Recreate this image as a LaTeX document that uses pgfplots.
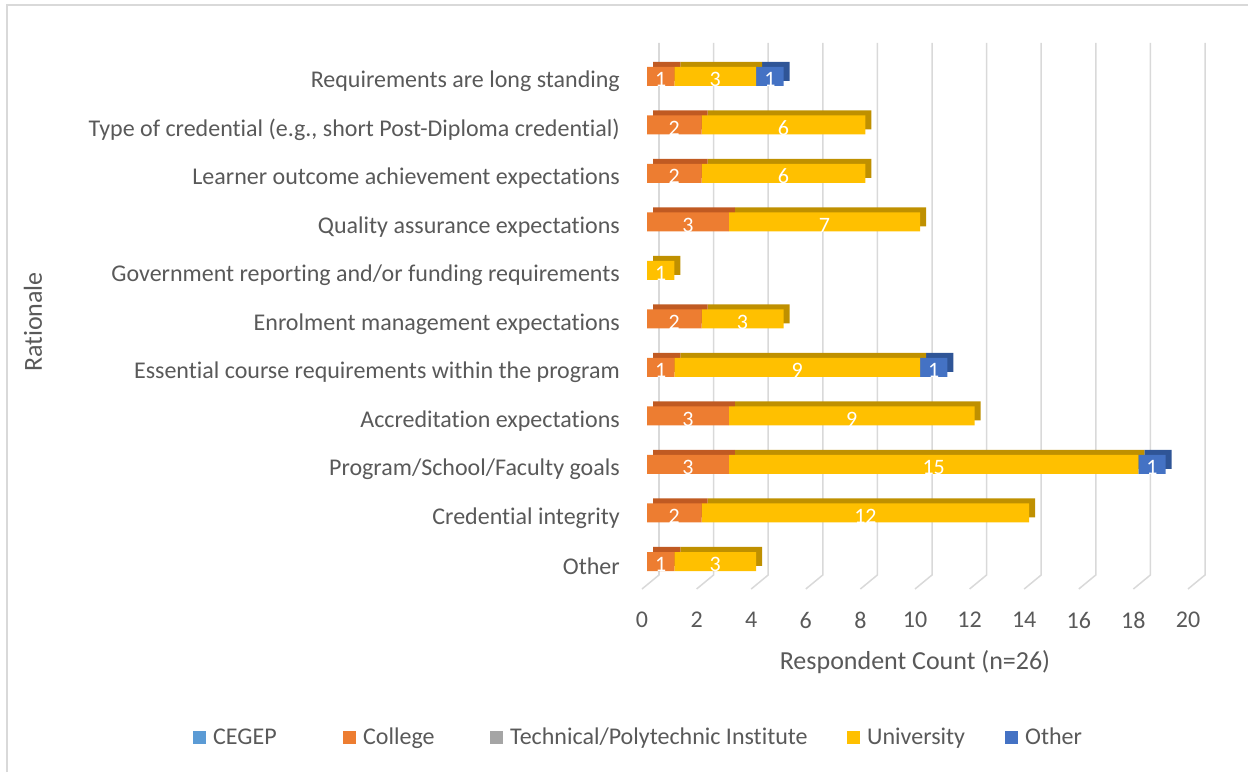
\documentclass[border=0pt]{standalone}
\usepackage{pgfplots}
\usepackage{pgfplotstable}
\pgfplotsset{compat=1.18}
\usepackage{fontspec}
\setmainfont{Carlito}[Ligatures=NoCommon]

\definecolor{txt}{HTML}{595959}
\definecolor{gridc}{HTML}{D9D9D9}
\definecolor{cegep}{HTML}{5B9BD5}
\definecolor{college}{HTML}{ED7D31}
\definecolor{tech}{HTML}{A5A5A5}
\definecolor{univ}{HTML}{FFC000}
\definecolor{other}{HTML}{4472C4}
\definecolor{cegepD}{HTML}{41719C}
\definecolor{collegeD}{HTML}{C05A22}
\definecolor{techD}{HTML}{7C7C7C}
\definecolor{univD}{HTML}{BF9000}
\definecolor{otherD}{HTML}{2F5597}

% rows bottom (0) to top (10)
\pgfplotstableread{
idx cegep college tech univ other
0  0 1 0 3  0
1  0 2 0 12 0
2  0 3 0 15 1
3  0 3 0 9  0
4  0 1 0 9  1
5  0 2 0 3  0
6  0 0 0 1  0
7  0 3 0 7  0
8  0 2 0 6  0
9  0 2 0 6  0
10 0 1 0 3  1
}\data

\pgfplotsset{
  base/.style={scale only axis, width=546pt, height=546pt,
    xmin=0, xmax=20, ymin=-0.567, ymax=10.69, anchor=south west,
    xbar stacked, bar width=19pt, clip=false},
  lbl/.style={point meta=\thisrow{#1},
    nodes near coords={\pgfmathfloatifflags{\pgfplotspointmeta}{0}{}{\pgfmathprintnumber[assume math mode=true]{\pgfplotspointmeta}}},
    every node near coord/.append style={anchor=center, text=white,
      font=\fontsize{22}{26}\selectfont, inner sep=0pt, yshift=-3pt}},
}

\begin{document}
\begin{tikzpicture}
\useasboundingbox (0,0) rectangle (1248pt,772pt);
\draw[gridc, line width=1.5pt] (7pt,0) -- (7pt,767pt) -- (1248pt,767pt);

% labels, ticks and the 3D grid
\begin{axis}[base, at={(647pt,183pt)},
    axis line style={draw=none}, tick style={draw=none},
    xtick={0,2,...,20}, ytick={0,...,10},
    yticklabels={Other, Credential integrity, Program/School/Faculty goals,
      Accreditation expectations, Essential course requirements within the program,
      Enrolment management expectations, Government reporting and/or funding requirements,
      Quality assurance expectations, Learner outcome achievement expectations,
      {Type of credential (e.g., short Post-Diploma credential)},
      Requirements are long standing},
    tick label style={font=\fontsize{24}{28}\selectfont, text=txt},
    /pgf/number format/assume math mode=true,
    xticklabel style={anchor=center, yshift=-31pt, xshift=-5pt},
    yticklabel style={anchor=east, inner sep=0pt, xshift=-27pt, yshift=-5pt},
    xlabel={Respondent Count (n=26)},
    xlabel style={at={(axis description cs:0.5,0)}, anchor=center,
      yshift=-73pt, xshift=-5pt, font=\fontsize{26}{30}\selectfont, text=txt},
  ]
  \pgfplotsinvokeforeach{0,2,4,6,8,10,12,14,16,18,20}{
    \draw[gridc, line width=1.5pt] ([xshift=12pt]axis cs:#1,10.69)
      -- ([xshift=12pt]axis cs:#1,-0.278) -- ([xshift=-5pt]axis cs:#1,-0.567);
  }
\end{axis}

% back faces of the bars
\begin{axis}[base, at={(653pt,188pt)}, hide axis]
  \addplot[fill=cegepD, draw=none] table[x=cegep, y=idx]{\data};
  \addplot[fill=collegeD, draw=none] table[x=college, y=idx]{\data};
  \addplot[fill=techD, draw=none] table[x=tech, y=idx]{\data};
  \addplot[fill=univD, draw=none] table[x=univ, y=idx]{\data};
  \addplot[fill=otherD, draw=none] table[x=other, y=idx]{\data};
\end{axis}

% front faces, values and legend
\begin{axis}[base, at={(647pt,183pt)}, hide axis,
    legend image code/.code={\fill[#1] (0pt,-6.5pt) rectangle (13pt,6.5pt);},
    legend columns=5,
    legend style={at={(-0.8315,-0.2711)}, anchor=west, draw=none, fill=none,
      inner sep=0pt, column sep=0pt,
      nodes={inner sep=0pt, text=txt, font=\fontsize{24}{28}\selectfont},
      /tikz/every odd column/.append style={column sep=7pt}},
  ]
  \addplot[fill=cegep, draw=none, lbl=cegep] table[x=cegep, y=idx]{\data};
  \addlegendentry{\makebox[130pt][l]{CEGEP}}
  \addplot[fill=college, draw=none, lbl=college] table[x=college, y=idx]{\data};
  \addlegendentry{\makebox[127pt][l]{College}}
  \addplot[fill=tech, draw=none, lbl=tech] table[x=tech, y=idx]{\data};
  \addlegendentry{\makebox[337pt][l]{Technical/Polytechnic Institute}}
  \addplot[fill=univ, draw=none, lbl=univ] table[x=univ, y=idx]{\data};
  \addlegendentry{\makebox[138pt][l]{University}}
  \addplot[fill=other, draw=none, lbl=other] table[x=other, y=idx]{\data};
  \addlegendentry{Other}
\end{axis}

\node[rotate=90, font=\fontsize{26}{30}\selectfont, text=txt] at (33pt,450pt) {Rationale};
\end{tikzpicture}
\end{document}
